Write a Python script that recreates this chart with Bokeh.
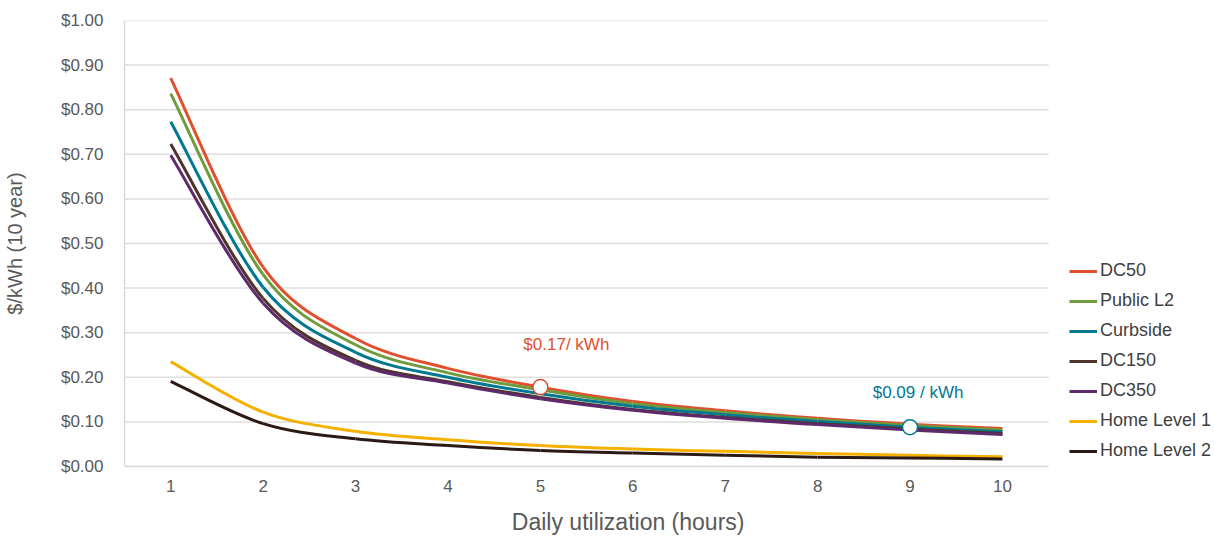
from bokeh.plotting import figure
from bokeh.models import (Legend, LegendItem, NumeralTickFormatter, FixedTicker,
                          Range1d, Label, LinearAxis)
from bokeh.embed import file_html
from bokeh.resources import INLINE

hours = [1, 2, 3, 4, 5, 6, 7, 8, 9, 10]
dc50 = [0.871, 0.447, 0.287, 0.220, 0.178, 0.146, 0.125, 0.108, 0.095, 0.085]
public_l2 = [0.836, 0.430, 0.273, 0.210, 0.172, 0.141, 0.121, 0.105, 0.092, 0.082]
curbside = [0.773, 0.402, 0.256, 0.200, 0.163, 0.135, 0.116, 0.101, 0.088, 0.078]
dc150 = [0.723, 0.377, 0.238, 0.190, 0.155, 0.128, 0.110, 0.096, 0.084, 0.074]
dc350 = [0.698, 0.366, 0.232, 0.187, 0.152, 0.126, 0.108, 0.094, 0.082, 0.072]
home_l1 = [0.235, 0.122, 0.079, 0.060, 0.047, 0.039, 0.034, 0.029, 0.025, 0.022]
home_l2 = [0.191, 0.096, 0.062, 0.047, 0.036, 0.030, 0.025, 0.021, 0.019, 0.017]

series_names = ["DC50", "Public L2", "Curbside", "DC150", "DC350", "Home Level 1", "Home Level 2"]
series_values = [dc50, public_l2, curbside, dc150, dc350, home_l1, home_l2]
colors = ["#E0502E", "#6E9B3B", "#00788F", "#4E3429", "#5F2A6C", "#F5B000", "#2B1A14"]

y_ticks = [0.0, 0.1, 0.2, 0.3, 0.4, 0.5, 0.6, 0.7, 0.8, 0.9, 1.0]
annot_dc50 = "$0.17/ kWh"
annot_curb = "$0.09 / kWh"
x_title = "Daily utilization (hours)"
y_title = "$/kWh (10 year)"

FONT = "Liberation Sans"
GREY = "#595959"

W, H = 1214, 537
LEFT, PLOT_W = 123, 925          # plotting area: 925 px for the 0.5..10.5 span
X0, X1 = 0.5, 10.5
x_end = X0 + (X1 - X0) * (W - LEFT) / PLOT_W   # frame runs on under the legend

p = figure(width=W, height=H, output_backend="svg", toolbar_location=None,
           x_range=Range1d(X0, x_end), y_range=Range1d(0, 1.0),
           min_border_left=LEFT, min_border_right=0, min_border_top=20,
           min_border_bottom=71)
p.outline_line_color = None
p.background_fill_color = "white"

p.xgrid.grid_line_color = None
p.ygrid.grid_line_color = None
# horizontal gridlines only across the plotting area
p.segment(x0=[X0] * len(y_ticks), x1=[X1] * len(y_ticks), y0=y_ticks, y1=y_ticks,
          line_color="#DEDEDE", line_width=1.5)

p.yaxis.ticker = FixedTicker(ticks=y_ticks)
p.yaxis.formatter = NumeralTickFormatter(format="$0.00")
p.xaxis.ticker = FixedTicker(ticks=hours)
p.xaxis.bounds = (X0, X1)

for ax in (p.xaxis[0], p.yaxis[0]):
    ax.axis_line_color = "#D9D9D9"
    ax.axis_line_width = 1.5
    ax.major_tick_line_color = None
    ax.minor_tick_line_color = None
    ax.major_label_text_font = FONT
    ax.major_label_text_font_size = "17px"
    ax.major_label_text_color = GREY
    ax.axis_label_text_font = FONT
    ax.axis_label_text_font_style = "normal"
    ax.axis_label_text_color = GREY

p.yaxis.major_label_standoff = 15
p.yaxis.axis_label = y_title
p.yaxis.axis_label_text_font_size = "20px"
p.yaxis.axis_label_standoff = 32

p.xaxis.major_label_standoff = 7

# x-axis title, drawn by a bare second axis so it can sit where the source has it
title_pos = 5.95
title_axis = LinearAxis(ticker=FixedTicker(ticks=[title_pos]),
                        major_label_overrides={title_pos: x_title},
                        axis_line_color=None, major_tick_line_color=None,
                        minor_tick_line_color=None, major_label_standoff=8,
                        major_label_text_font=FONT, major_label_text_font_size="23px",
                        major_label_text_color=GREY)
p.add_layout(title_axis, "below")


def bezier_parts(xs, ys):
    n = len(xs)
    x0, y0, x1, y1, cx0, cy0, cx1, cy1 = [], [], [], [], [], [], [], []
    for i in range(n - 1):
        im1 = max(i - 1, 0)
        ip2 = min(i + 2, n - 1)
        x0.append(xs[i]); y0.append(ys[i])
        x1.append(xs[i + 1]); y1.append(ys[i + 1])
        cx0.append(xs[i] + (xs[i + 1] - xs[im1]) / 6.0)
        cy0.append(ys[i] + (ys[i + 1] - ys[im1]) / 6.0)
        cx1.append(xs[i + 1] - (xs[ip2] - xs[i]) / 6.0)
        cy1.append(ys[i + 1] - (ys[ip2] - ys[i]) / 6.0)
    return dict(x0=x0, y0=y0, x1=x1, y1=y1, cx0=cx0, cy0=cy0, cx1=cx1, cy1=cy1)


items = []
for name, vals, col in zip(series_names, series_values, colors):
    d = bezier_parts(hours, vals)
    r = p.bezier(x0=d["x0"], y0=d["y0"], x1=d["x1"], y1=d["y1"],
                 cx0=d["cx0"], cy0=d["cy0"], cx1=d["cx1"], cy1=d["cy1"],
                 line_color=col, line_width=3)
    items.append(LegendItem(label=name, renderers=[r]))

# highlighted points
p.scatter([hours[4]], [dc50[4]], size=15, fill_color="white",
          line_color=colors[0], line_width=1.5)
p.scatter([hours[8]], [curbside[8]], size=15, fill_color="white",
          line_color=colors[2], line_width=1.5)

p.add_layout(Label(x=hours[4], y=dc50[4], text=annot_dc50, x_offset=26, y_offset=43,
                   text_align="center", text_baseline="middle", text_color=colors[0],
                   text_font=FONT, text_font_size="17px"))
p.add_layout(Label(x=hours[8], y=curbside[8], text=annot_curb, x_offset=8, y_offset=35,
                   text_align="center", text_baseline="middle", text_color=colors[2],
                   text_font=FONT, text_font_size="17px"))

legend = Legend(items=items, location=(PLOT_W + 20, 5), padding=0, margin=0,
                spacing=9, glyph_width=28, glyph_height=20, label_height=20,
                label_standoff=3, label_text_font=FONT, label_text_font_size="18px",
                label_text_color="#404040", border_line_color=None,
                background_fill_alpha=0)
p.add_layout(legend, "center")

open("out.html", "w").write(file_html(p, INLINE))
